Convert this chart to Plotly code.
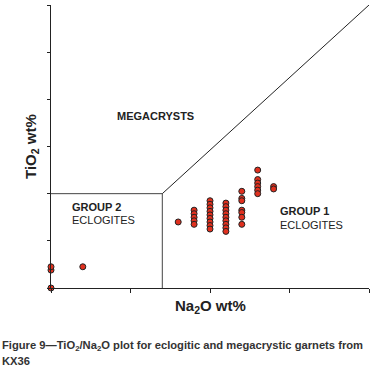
import plotly.graph_objects as go

# Garnet analyses (wt%)
na2o = [0.0, 0.0, 0.0, 0.02,
        0.08,
        0.09, 0.09, 0.09, 0.09, 0.09,
        0.10, 0.10, 0.10, 0.10, 0.10, 0.10, 0.10, 0.10, 0.10,
        0.11, 0.11, 0.11, 0.11, 0.11, 0.11, 0.11, 0.11, 0.11,
        0.12, 0.12, 0.12, 0.12, 0.12, 0.12, 0.12,
        0.13, 0.13, 0.13, 0.13, 0.13, 0.13,
        0.14, 0.14]
tio2 = [0.0, 0.076, 0.090, 0.090,
        0.28,
        0.33, 0.315, 0.30, 0.285, 0.27,
        0.37, 0.355, 0.34, 0.325, 0.31, 0.295, 0.28, 0.265, 0.25,
        0.36, 0.345, 0.33, 0.315, 0.30, 0.285, 0.27, 0.255, 0.24,
        0.41, 0.38, 0.37, 0.33, 0.32, 0.30, 0.27,
        0.50, 0.46, 0.445, 0.43, 0.415, 0.40,
        0.43, 0.42]

# Field boundaries (Na2O, TiO2)
boundary_x = [0.0, 0.07, 0.07]
boundary_y = [0.4, 0.4, 0.0]
diag_x = [0.07, 0.2]
diag_y = [0.4, 1.2]

fig = go.Figure()
fig.add_trace(go.Scatter(x=boundary_x, y=boundary_y, mode="lines",
                         line=dict(color="#444", width=1), hoverinfo="skip"))
fig.add_trace(go.Scatter(x=diag_x, y=diag_y, mode="lines",
                         line=dict(color="#222", width=1), hoverinfo="skip"))
fig.add_trace(go.Scatter(x=na2o, y=tio2, mode="markers", cliponaxis=False,
                         marker=dict(size=6, color="#e0301e",
                                     line=dict(color="#222", width=1))))

font = "Liberation Sans, Arial, sans-serif"
fig.update_layout(
    width=375, height=378,
    margin=dict(l=51, r=6, t=5, b=90),
    plot_bgcolor="white", paper_bgcolor="white",
    showlegend=False,
    font=dict(family=font, color="#222"),
    xaxis=dict(range=[0, 0.2], dtick=0.05, showgrid=False, zeroline=False,
               showline=True, linecolor="#222", linewidth=1,
               ticks="outside", ticklen=4, tickcolor="#222",
               showticklabels=False, fixedrange=True),
    yaxis=dict(range=[0, 1.2], dtick=0.2, showgrid=False, zeroline=False,
               showline=True, linecolor="#222", linewidth=1,
               ticks="outside", ticklen=3, tickcolor="#222",
               showticklabels=False, fixedrange=True),
)

lab = dict(size=11, color="#222")
fig.add_annotation(x=0.0657, y=0.73, xref="x", yref="y", text="<b>MEGACRYSTS</b>",
                   showarrow=False, font=lab)
fig.add_annotation(x=0.012, y=0.345, xref="x", yref="y", text="<b>GROUP 2</b>",
                   showarrow=False, xanchor="left", font=lab)
fig.add_annotation(x=0.012, y=0.287, xref="x", yref="y", text="ECLOGITES",
                   showarrow=False, xanchor="left", font=lab)
fig.add_annotation(x=0.1425, y=0.325, xref="x", yref="y", text="<b>GROUP 1</b>",
                   showarrow=False, xanchor="left", font=lab)
fig.add_annotation(x=0.1425, y=0.266, xref="x", yref="y", text="ECLOGITES",
                   showarrow=False, xanchor="left", font=lab)

# axis titles
fig.add_annotation(x=0.5, y=0, xref="paper", yref="paper", yshift=-30,
                   text="<b>Na<sub>2</sub>O wt%</b>", showarrow=False,
                   font=dict(size=15, color="#222"))
fig.add_annotation(x=0, y=0.5, xref="paper", yref="paper", xshift=-31,
                   text="<b>TiO<sub>2</sub> wt%</b>", textangle=-90, showarrow=False,
                   font=dict(size=15, color="#222"))

# caption
cap_font = dict(size=11.2, color="#333",
                family="Liberation Sans Narrow, Arial Narrow, " + font)
fig.add_annotation(x=0, y=0, xref="paper", yref="paper", xshift=-51, yshift=-58,
                   xanchor="left", yanchor="middle",
                   text="<b>Figure 9\u2014TiO<sub>2</sub>/Na<sub>2</sub>O plot for eclogitic and megacrystic garnets from</b>",
                   showarrow=False, font=cap_font)
fig.add_annotation(x=0, y=0, xref="paper", yref="paper", xshift=-51, yshift=-73,
                   xanchor="left", yanchor="middle", text="<b>KX36</b>",
                   showarrow=False, font=cap_font)

fig.write_html("out.html", config={"displayModeBar": False},
               post_script="document.body.style.margin='0';document.body.style.overflow='hidden';")
